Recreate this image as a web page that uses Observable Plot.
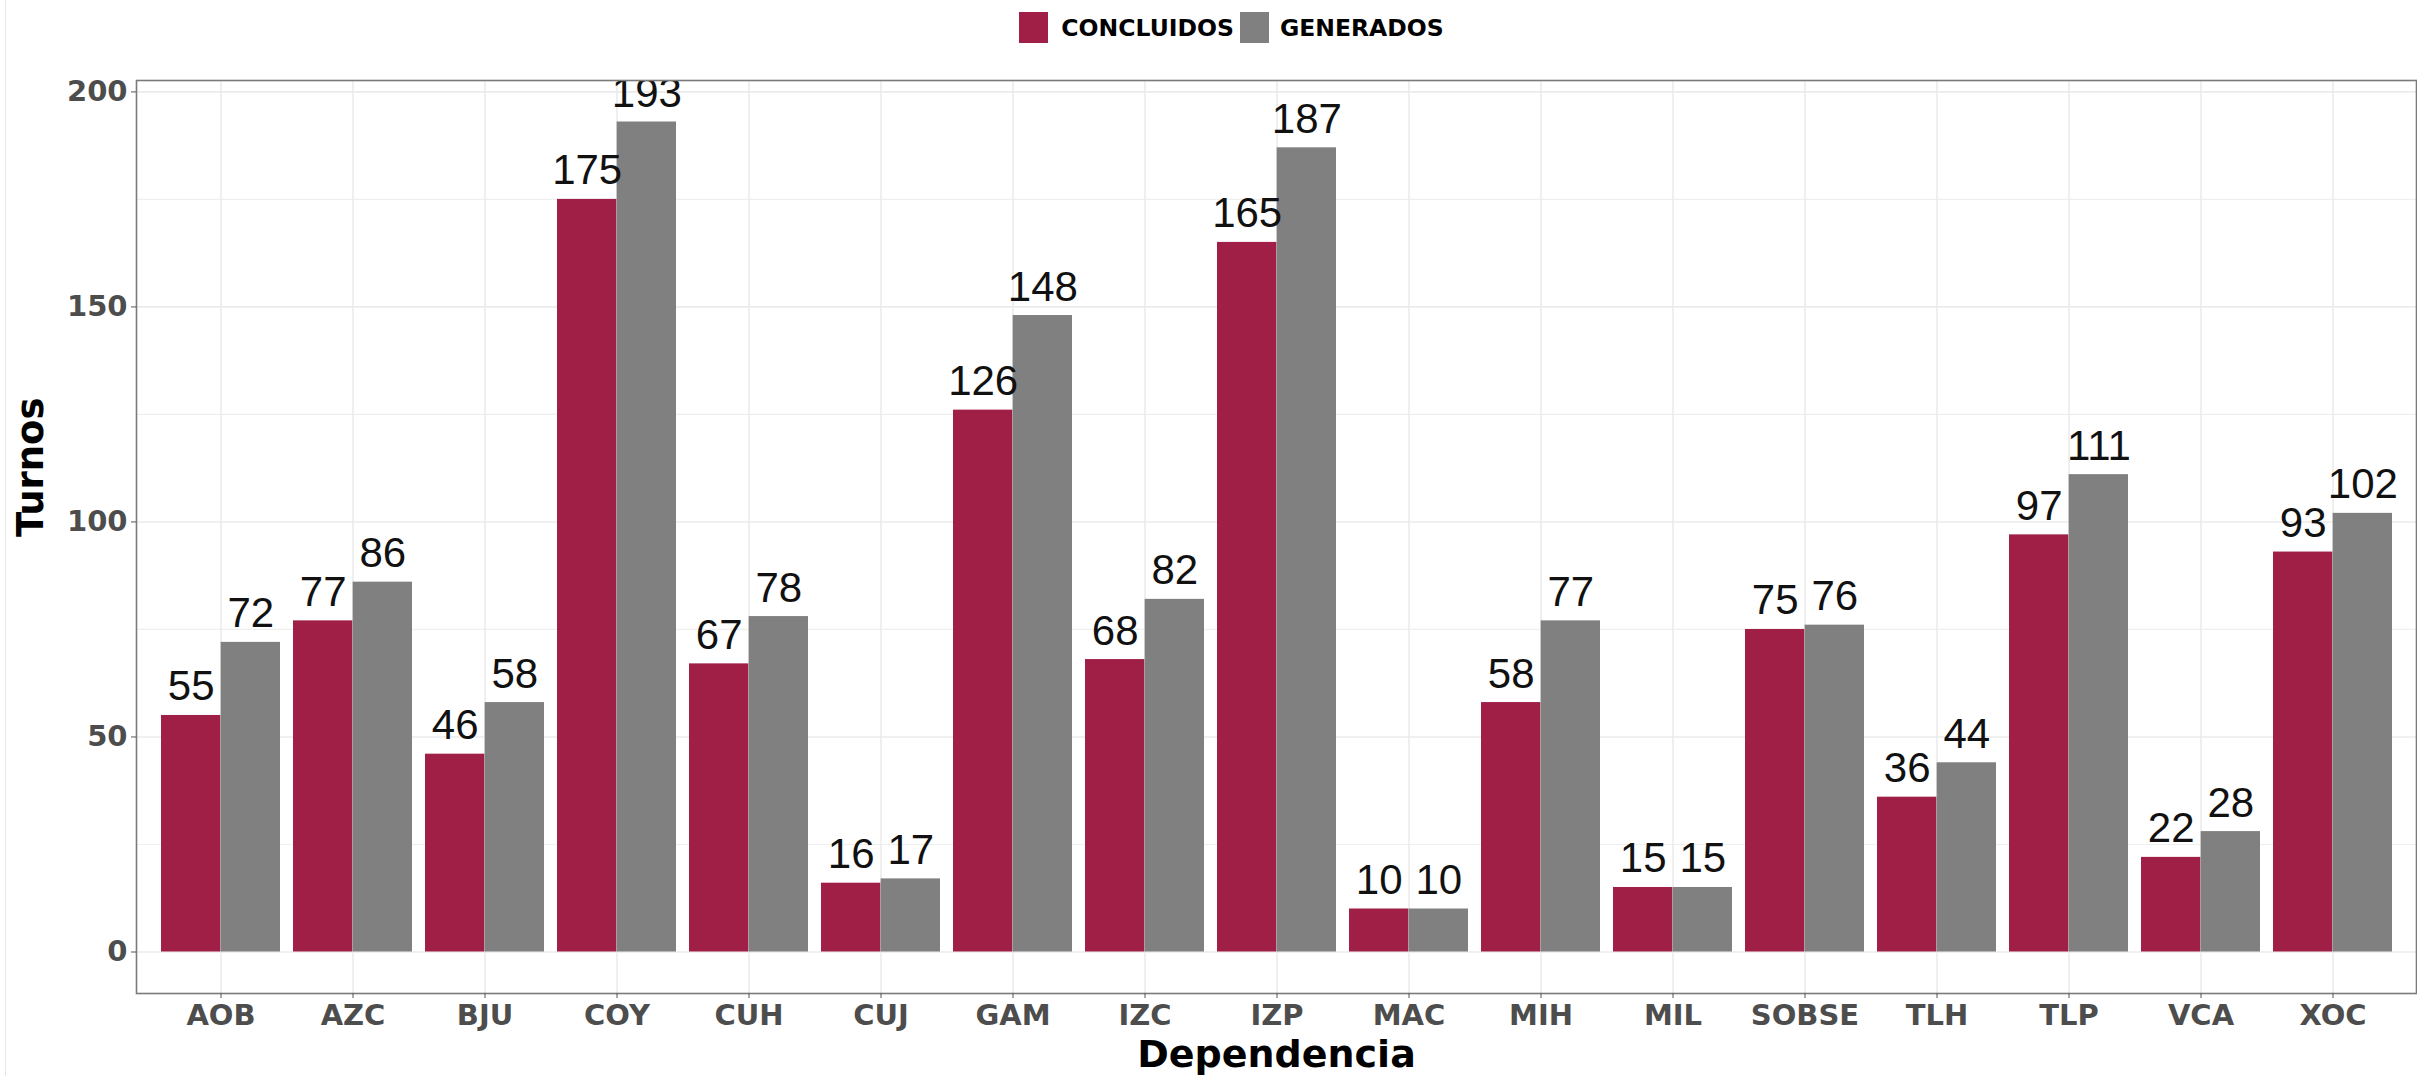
<!DOCTYPE html>
<html><head><meta charset="utf-8">
<script src="https://cdn.jsdelivr.net/npm/d3@7"></script>
<script src="https://cdn.jsdelivr.net/npm/@observablehq/plot@0.6"></script>
<style>
body{margin:0;background:#fff;width:2417px;height:1076px;overflow:hidden;position:relative;font-family:"DejaVu Sans",sans-serif}
#edge{position:absolute;left:5px;top:0;width:1px;height:1076px;background:#e6e6e6}
#legend{height:55px;display:flex;justify-content:center;align-items:center;padding-left:46px;box-sizing:border-box;font-weight:700;font-size:23.5px;color:#000}
#legend .key{width:29px;height:31px;display:inline-block}
#chart svg{display:block}
</style></head>
<body>
<div id="edge"></div>
<div id="legend"></div>
<div id="chart"></div>
<script>
const categories = ["AOB","AZC","BJU","COY","CUH","CUJ","GAM","IZC","IZP","MAC","MIH","MIL","SOBSE","TLH","TLP","VCA","XOC"];
const concluidos = [55,77,46,175,67,16,126,68,165,10,58,15,75,36,97,22,93];
const generados  = [72,86,58,193,78,17,148,82,187,10,77,15,76,44,111,28,102];
const seriesNames = ["CONCLUIDOS","GENERADOS"];
const seriesColors = ["#9F1F47","#808080"];
const yTicks = [0,50,100,150,200];
const yMinor = [25,75,125,175];
const yTitle = "Turnos";
const xTitle = "Dependencia";

// legend
const leg = document.getElementById("legend");
seriesNames.forEach((s,i)=>{
  const k=document.createElement("span"); k.className="key"; k.style.background=seriesColors[i];
  k.style.marginRight = i===0 ? "13px" : "11px";
  const t=document.createElement("span"); t.textContent=s;
  if(i===0) t.style.marginRight="6px";
  leg.appendChild(k); leg.appendChild(t);
});

const W=2417, H=1021, mL=136, mR=1, mT=25, mB=83;
const step=(W-mL-mR)/17.2, bw=0.9*step, half=bw/2;
const rows = categories.flatMap((c,i)=>[
  {cat:c, serie:seriesNames[0], value:concluidos[i]},
  {cat:c, serie:seriesNames[1], value:generados[i]}
]);
const conc = rows.filter(d=>d.serie===seriesNames[0]);
const gen = rows.filter(d=>d.serie===seriesNames[1]);
const axisFont = "'DejaVu Sans', sans-serif";

const chart = Plot.plot({
  width:W, height:H, marginLeft:mL, marginRight:mR, marginTop:mT, marginBottom:mB,
  style:{fontFamily:axisFont, background:"#fff", overflow:"visible"},
  x:{type:"band", domain:categories, paddingInner:0.1, paddingOuter:0.15, label:null},
  y:{domain:[-9.65,202.65], label:null},
  color:{domain:seriesNames, range:seriesColors},
  marks:[
    Plot.ruleY(yMinor,{stroke:"#efefef",strokeWidth:1.2}),
    Plot.ruleY(yTicks,{stroke:"#ebebeb",strokeWidth:1.6}),
    Plot.ruleX(categories,{x:d=>d, stroke:"#ebebeb", strokeWidth:1.6}),
    Plot.barY(conc,{x:"cat", y:"value", fill:"serie", insetRight:half}),
    Plot.barY(gen,{x:"cat", y:"value", fill:"serie", insetLeft:half}),
    Plot.text(conc,{x:"cat", y:"value", text:"value", dx:-half/2, dy:-15, lineAnchor:"bottom", fontSize:42, fontFamily:"'Liberation Sans', Arial, sans-serif", fill:"#111", clip:true}),
    Plot.text(gen,{x:"cat", y:"value", text:"value", dx:half/2, dy:-15, lineAnchor:"bottom", fontSize:42, fontFamily:"'Liberation Sans', Arial, sans-serif", fill:"#111", clip:true}),
    Plot.frame({stroke:"#7a7a7a", strokeWidth:1.6}),
    Plot.axisY({ticks:yTicks, tickSize:5, tickPadding:4, fontSize:29, fontWeight:700, fontFamily:axisFont, fill:"#4d4d4d", stroke:"#555", label:null}),
    Plot.axisX({tickSize:5, tickPadding:6, fontSize:29, fontWeight:700, fontFamily:axisFont, fill:"#4d4d4d", stroke:"#555", label:null}),
    Plot.text([yTitle],{frameAnchor:"left", rotate:-90, dx:-105, fontSize:37, fontWeight:700, fontFamily:axisFont, fill:"#000"}),
    Plot.text([xTitle],{frameAnchor:"bottom", lineAnchor:"bottom", dy:73, fontSize:38, fontWeight:700, fontFamily:axisFont, fill:"#000"})
  ]
});
document.getElementById("chart").appendChild(chart);
</script>
</body></html>
